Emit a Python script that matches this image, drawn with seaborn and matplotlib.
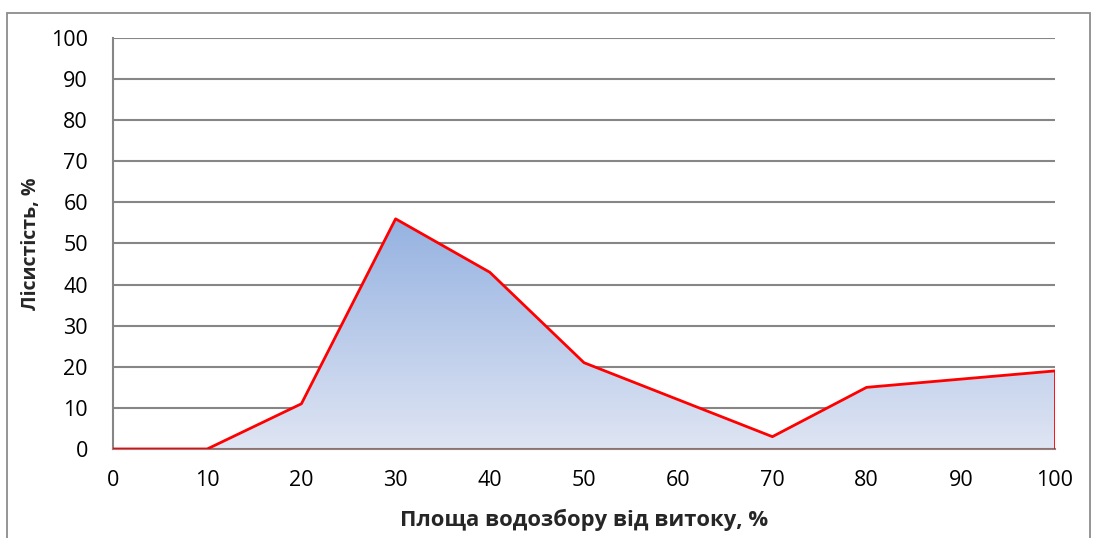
import matplotlib
matplotlib.use("Agg")
import matplotlib.pyplot as plt
import seaborn as sns
import numpy as np
import pandas as pd
from matplotlib.colors import LinearSegmentedColormap
from matplotlib.patches import Rectangle

# data
area_share = [0, 10, 20, 30, 40, 50, 60, 70, 80, 90, 100]
forest_cover = [0, 0, 11, 56, 43, 21, 12, 3, 15, 17, 19]
x_ticks = [0, 10, 20, 30, 40, 50, 60, 70, 80, 90, 100]
y_ticks = [0, 10, 20, 30, 40, 50, 60, 70, 80, 90, 100]

df = pd.DataFrame({"x": area_share, "y": forest_cover})

sns.set_style("white")
plt.rcParams["font.family"] = ["Open Sans", "DejaVu Sans"]

f = plt.figure(figsize=(10.93, 5.38), dpi=100)
ax = f.add_axes([113 / 1093, 1 - 449 / 538, (1055 - 113) / 1093, (449 - 38) / 538])

# outer chart border
f.patches.append(Rectangle((7 / 1093, -0.05), (1090 - 7) / 1093, 1.05 - 13 / 538,
                           transform=f.transFigure, fill=False,
                           edgecolor="#8c8c8c", linewidth=1.3, zorder=0))

ax.set_yticks(y_ticks)
ax.set_xticks(x_ticks)
ax.grid(axis="y", color="#868686", linewidth=1.5, zorder=0)
ax.set_axisbelow(True)

# gradient-filled area, clipped to the polygon
poly = ax.fill_between(df["x"], df["y"], 0, facecolor="none", edgecolor="none", zorder=2)
cmap = LinearSegmentedColormap.from_list("grad", ["#dfe5f3", "#95b2e1"])
grad = np.linspace(0, 1, 256).reshape(-1, 1)
ymax = max(forest_cover)
img = ax.imshow(grad, cmap=cmap, origin="lower", aspect="auto",
                extent=[min(area_share), max(area_share), 0, ymax], zorder=2)
img.set_clip_path(poly.get_paths()[0], transform=ax.transData)

# red outline
sns.lineplot(data=df, x="x", y="y", color="#ff0000", linewidth=2, ax=ax, zorder=4)
ax.plot([area_share[-1], area_share[-1]], [0, forest_cover[-1]], color="#ff0000", linewidth=2, zorder=4)
ax.plot([area_share[0], area_share[-1]], [0, 0], color="#ff0000", linewidth=1, zorder=4)
ax.set_xlim(0, 100)
ax.set_ylim(0, 100)

for side in ["top", "right"]:
    ax.spines[side].set_visible(False)
for side in ["left", "bottom"]:
    ax.spines[side].set_color("#868686")
    ax.spines[side].set_linewidth(1.5)
ax.tick_params(axis="both", direction="out", length=7, width=1.5, color="#868686",
               labelsize=15.5, labelcolor="black")
ax.tick_params(axis="x", pad=8)
ax.tick_params(axis="y", pad=11)

ax.set_xlabel("Площа водозбору від витоку, %", fontsize=15.8, fontweight="bold", labelpad=13)
ax.set_ylabel("Лісистість, %", fontsize=14, fontweight="bold", labelpad=7)

f.savefig("out.png", dpi=100, facecolor="white")
